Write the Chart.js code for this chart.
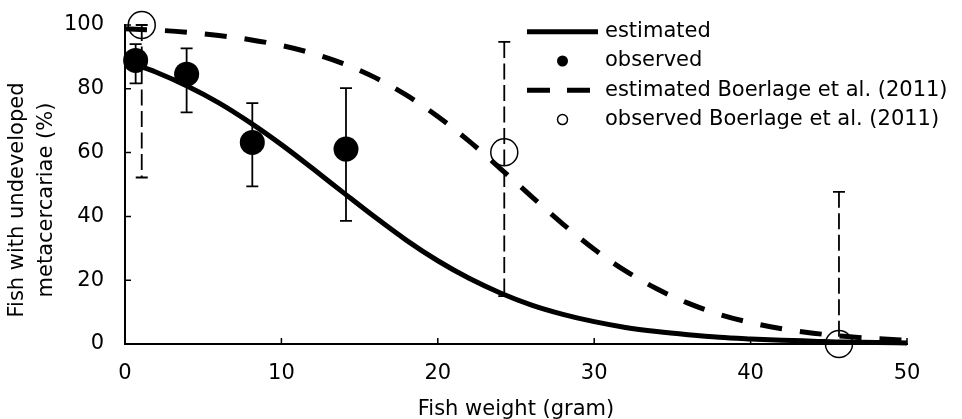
<!DOCTYPE html>
<html>
<head>
<meta charset="utf-8">
<script src="https://cdn.jsdelivr.net/npm/chart.js@4"></script>
<style>
    html, body { margin: 0; padding: 0; background: #fff; }
    #wrap { width: 962px; height: 419px; }
</style>
</head>
<body>
<div id="wrap"><canvas id="myChart" width="962" height="419"></canvas></div>
<script>
// fitted curves, every 2 grams
const curveX = [0, 2, 4, 6, 8, 10, 12, 14, 16, 18, 20, 22, 24, 26, 28, 30, 32, 34, 36, 38, 40, 42, 44, 46, 48, 50];
const estimated = [88.7, 85.2, 80.8, 75.6, 69.4, 62.5, 55.0, 47.3, 39.7, 32.5, 26.1, 20.6, 16.0, 12.2, 9.3, 7.0, 5.2, 3.9, 2.9, 2.1, 1.6, 1.2, 0.9, 0.6, 0.5, 0.3];
const estimatedBoerlage = [98.8, 98.4, 97.7, 96.7, 95.4, 93.6, 91.1, 87.8, 83.5, 78.0, 71.3, 63.6, 55.0, 46.2, 37.6, 29.7, 22.9, 17.3, 12.8, 9.3, 6.7, 4.8, 3.4, 2.4, 1.7, 1.2];

// observed points with error bars
const obsX = [0.68, 3.94, 8.14, 14.13];
const obsY = [88.9, 84.6, 63.2, 61.1];
const obsLow = [81.7, 72.6, 49.4, 38.6];
const obsHigh = [94.0, 92.7, 75.5, 80.2];

const boerX = [1.07, 24.25, 45.65];
const boerY = [100, 60.1, 0];
const boerLow = [52.2, 15.0, 0];
const boerHigh = [100, 94.7, 47.7];

const xTicks = [0, 10, 20, 30, 40, 50];
const yTicks = [0, 20, 40, 60, 80, 100];

const FONT = 'DejaVu Sans';

function pts(xs, ys) {
    return xs.map((x, i) => ({x: x, y: ys[i]}));
}

// error bars, drawn under the markers
const errorBars = {
    id: 'errorBars',
    beforeDatasetsDraw(chart) {
        const {ctx, scales: {x, y}} = chart;
        const draw = (xs, lo, hi, dash) => {
            ctx.save();
            ctx.strokeStyle = '#000';
            ctx.lineWidth = 1.8;
            for (let i = 0; i < xs.length; i++) {
                const px = x.getPixelForValue(xs[i]);
                const top = y.getPixelForValue(hi[i]);
                const bot = y.getPixelForValue(lo[i]);
                ctx.setLineDash(dash);
                ctx.beginPath();
                ctx.moveTo(px, top);
                ctx.lineTo(px, bot);
                ctx.stroke();
                ctx.setLineDash([]);
                ctx.beginPath();
                ctx.moveTo(px - 6, top);
                ctx.lineTo(px + 6, top);
                ctx.moveTo(px - 6, bot);
                ctx.lineTo(px + 6, bot);
                ctx.stroke();
            }
            ctx.restore();
        };
        draw(obsX, obsLow, obsHigh, []);
        draw(boerX, boerLow, boerHigh, [16, 5.5]);
    }
};

// inward tick marks, y title and the legend
const decorations = {
    id: 'decorations',
    afterDraw(chart) {
        const {ctx, chartArea, scales: {x, y}} = chart;
        ctx.save();
        ctx.strokeStyle = '#000';
        ctx.lineWidth = 1.5;
        ctx.beginPath();
        for (const t of xTicks) {
            if (t === 0) continue;
            const px = x.getPixelForValue(t);
            ctx.moveTo(px, chartArea.bottom);
            ctx.lineTo(px, chartArea.bottom - 6);
        }
        for (const t of yTicks) {
            if (t === 0) continue;
            const py = y.getPixelForValue(t);
            ctx.moveTo(chartArea.left, py);
            ctx.lineTo(chartArea.left + 6, py);
        }
        ctx.stroke();

        // y axis title, two lines
        ctx.fillStyle = '#000';
        ctx.font = '21px "' + FONT + '"';
        ctx.textAlign = 'center';
        ctx.textBaseline = 'middle';
        ctx.translate(0, 200);
        ctx.rotate(-Math.PI / 2);
        ctx.fillText('Fish with undeveloped', 0, 18);
        ctx.fillText('metacercariae (%)', 0, 47);
        ctx.restore();

        // legend
        ctx.save();
        const ds = chart.data.datasets;
        const x0 = 527, x1 = 598, tx = 605;
        const rows = [31.7, 61, 90.3, 119.6];
        ctx.strokeStyle = '#000';
        ctx.fillStyle = '#000';
        ctx.lineWidth = 5;
        ctx.beginPath();
        ctx.moveTo(x0, rows[0]);
        ctx.lineTo(x1, rows[0]);
        ctx.stroke();
        ctx.beginPath();
        ctx.arc((x0 + x1) / 2, rows[1], 5.5, 0, Math.PI * 2);
        ctx.fill();
        ctx.beginPath();
        ctx.moveTo(x0, rows[2]);
        ctx.lineTo(x0 + 23, rows[2]);
        ctx.moveTo(x1 - 31, rows[2]);
        ctx.lineTo(x1 - 8, rows[2]);
        ctx.stroke();
        ctx.lineWidth = 1.5;
        ctx.beginPath();
        ctx.arc((x0 + x1) / 2, rows[3], 5, 0, Math.PI * 2);
        ctx.stroke();

        ctx.font = '21px "' + FONT + '"';
        ctx.textAlign = 'left';
        ctx.textBaseline = 'middle';
        for (let i = 0; i < ds.length; i++) {
            ctx.fillText(ds[i].label, tx, rows[i]);
        }
        ctx.restore();
    }
};

Chart.defaults.font.family = FONT;
Chart.defaults.font.size = 21;
Chart.defaults.color = '#000';

const ctx = document.getElementById('myChart');
new Chart(ctx, {
    type: 'scatter',
    data: {
        datasets: [
            {
                label: 'estimated',
                type: 'line',
                data: pts(curveX, estimated),
                borderColor: '#000',
                borderWidth: 5,
                pointRadius: 0,
                fill: false,
                cubicInterpolationMode: 'monotone'
            },
            {
                label: 'observed',
                data: pts(obsX, obsY),
                pointRadius: 12.5,
                backgroundColor: '#000',
                borderColor: '#000',
                borderWidth: 0
            },
            {
                label: 'estimated Boerlage et al. (2011)',
                type: 'line',
                data: pts(curveX, estimatedBoerlage),
                borderColor: '#000',
                borderWidth: 5,
                borderDash: [22, 18],
                pointRadius: 0,
                fill: false,
                cubicInterpolationMode: 'monotone'
            },
            {
                label: 'observed Boerlage et al. (2011)',
                data: pts(boerX, boerY),
                pointRadius: 13.5,
                backgroundColor: 'rgba(0,0,0,0)',
                borderColor: '#000',
                borderWidth: 1.5
            }
        ]
    },
    options: {
        responsive: false,
        animation: false,
        clip: false,
        layout: {
            padding: {left: 0, right: 55, top: 25, bottom: 0}
        },
        plugins: {
            legend: {display: false},
            tooltip: {enabled: false}
        },
        scales: {
            x: {
                type: 'linear',
                min: 0,
                max: 50,
                afterFit: (scale) => {
                    scale.height = 75;
                    scale.paddingLeft = 0;
                    scale.paddingRight = 0;
                },
                afterBuildTicks: (scale) => { scale.ticks = xTicks.map(v => ({value: v})); },
                grid: {display: false, drawTicks: false},
                border: {display: true, color: '#000', width: 2},
                ticks: {padding: 17, color: '#000', font: {size: 21}},
                title: {
                    display: true,
                    text: 'Fish weight (gram)',
                    color: '#000',
                    font: {size: 21},
                    padding: {top: 0, bottom: -3}
                }
            },
            y: {
                min: 0,
                max: 100,
                afterFit: (scale) => {
                    scale.width = 125;
                    scale.paddingTop = 0;
                    scale.paddingBottom = 0;
                },
                afterBuildTicks: (scale) => { scale.ticks = yTicks.map(v => ({value: v})); },
                grid: {display: false, drawTicks: false},
                border: {display: true, color: '#000', width: 2},
                ticks: {padding: 21, color: '#000', font: {size: 21}}
            }
        }
    },
    plugins: [errorBars, decorations]
});
</script>
</body>
</html>
